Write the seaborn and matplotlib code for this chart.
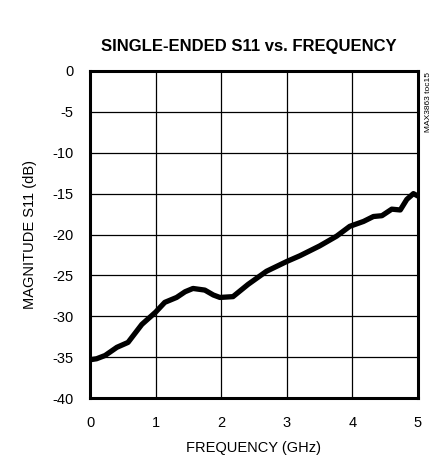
import matplotlib
matplotlib.use('Agg')
import matplotlib.pyplot as plt
import seaborn as sns
import pandas as pd

# frequency (GHz) and S11 magnitude (dB)
freq = [0.02, 0.1, 0.23, 0.41, 0.58, 0.79, 1.0, 1.14, 1.32, 1.45, 1.57, 1.75, 1.88, 1.98,
        2.18, 2.41, 2.69, 3.0, 3.2, 3.5, 3.76, 3.96, 4.17, 4.32, 4.45, 4.6, 4.73, 4.83, 4.93, 5.0]
s11 = [-35.3, -35.2, -34.8, -33.8, -33.2, -31.0, -29.5, -28.3, -27.7, -27.0, -26.6, -26.8, -27.4, -27.7,
       -27.6, -26.1, -24.5, -23.3, -22.6, -21.4, -20.2, -19.0, -18.4, -17.8, -17.7, -16.9, -17.0, -15.7, -15.0, -15.3]

df = pd.DataFrame({'FREQUENCY (GHz)': freq, 'MAGNITUDE S11 (dB)': s11})

sns.set_style('white')
plt.rcParams['font.family'] = ['Liberation Sans', 'DejaVu Sans']
plt.rcParams['axes.unicode_minus'] = False
plt.rcParams['text.color'] = 'black'
plt.rcParams['axes.labelcolor'] = 'black'

fig = plt.figure(figsize=(4.48, 4.58), dpi=100)
ax = fig.add_axes([90/448, 60/458, 328/448, 327/458])

sns.lineplot(data=df, x='FREQUENCY (GHz)', y='MAGNITUDE S11 (dB)', ax=ax,
             color='black', linewidth=3.8, zorder=5)
ax.lines[0].set_solid_joinstyle('round')
ax.lines[0].set_solid_capstyle('round')

ax.set_xlim(0, 5)
ax.set_ylim(-40, 0)
ax.set_xticks(range(0, 6))
ax.set_yticks(range(-40, 1, 5))
ax.grid(True, color='black', linewidth=0.9)
ax.tick_params(length=0, labelsize=10.5, colors='black')
ax.tick_params(axis='x', pad=13)
ax.tick_params(axis='y', pad=12)
for s in ax.spines.values():
    s.set_color('black')
    s.set_linewidth(2.2)
    s.set_zorder(6)

ax.set_xlabel('FREQUENCY (GHz)', fontsize=10.5, labelpad=8)
ax.set_ylabel('MAGNITUDE S11 (dB)', fontsize=10.5, labelpad=11)

fig.text(249/448, 1 - 46/458, 'SINGLE-ENDED S11 vs. FREQUENCY', ha='center', va='center',
         fontsize=12, fontweight='bold')
fig.text(428/448, 1 - 72/458, 'MAX3863 toc15', rotation=90, ha='center', va='top', fontsize=6)

fig.savefig('out.png', dpi=100)
